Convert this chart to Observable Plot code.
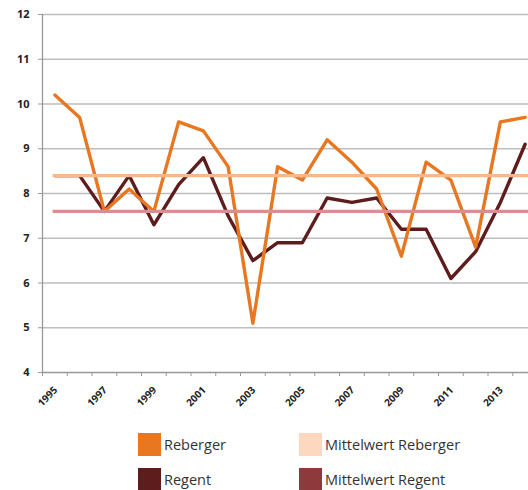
<!DOCTYPE html>
<html>
<head>
<meta charset="utf-8">
<script src="https://cdn.jsdelivr.net/npm/d3@7"></script>
<script src="https://cdn.jsdelivr.net/npm/@observablehq/plot@0.6"></script>
<style>
  body { margin: 0; background: #fff; font-family: "Open Sans", "Liberation Sans", sans-serif; }
  #chart svg { display: block; }
  .legend { position: relative; height: 65px; }
  .item { position: absolute; display: flex; align-items: center; font-size: 14.5px; color: #333; }
  .sw { width: 23px; height: 23px; margin-right: 3px; }
</style>
</head>
<body>
<div id="chart"></div>
<div class="legend" id="legend"></div>
<script>
const years = [1995,1996,1997,1998,1999,2000,2001,2002,2003,2004,2005,2006,2007,2008,2009,2010,2011,2012,2013,2014];
const reberger = [10.2,9.7,7.6,8.1,7.6,9.6,9.4,8.6,5.1,8.6,8.3,9.2,8.7,8.1,6.6,8.7,8.3,6.8,9.6,9.7];
const regent = [8.4,8.4,7.6,8.4,7.3,8.2,8.8,7.5,6.5,6.9,6.9,7.9,7.8,7.9,7.2,7.2,6.1,6.7,7.8,9.1];
const meanReberger = 8.4;
const meanRegent = 7.6;
const yTicks = [4,5,6,7,8,9,10,11,12];
const xLabels = [1995,1997,1999,2001,2003,2005,2007,2009,2011,2013];

const colors = {
  "Reberger": "#E87722",
  "Regent": "#5E1C1C",
  "Mittelwert Reberger": "#FDD8BE",
  "Mittelwert Regent": "#8E3A3C"
};
const meanLineColors = { reb: "#F8B88C", reg: "#D88E93" };

const rebData = years.map((y, i) => ({year: y, value: reberger[i]}));
const regData = years.map((y, i) => ({year: y, value: regent[i]}));
const boundaries = d3.range(1994.5, 2014.5, 1);

const xMax = 2014.136;
const plot = Plot.plot({
  width: 528,
  height: 425,
  marginLeft: 42,
  marginRight: 0,
  marginTop: 14,
  marginBottom: 53,
  x: {type: "linear", domain: [1994.5, xMax], axis: null},
  y: {type: "linear", domain: [4, 12], axis: null},
  marks: [
    Plot.ruleY(yTicks.slice(1), {stroke: "#bdbdbd", strokeWidth: 1.3}),
    Plot.ruleY([4], {stroke: "#999", strokeWidth: 1.3}),
    Plot.ruleX([1994.5], {y1: 4, y2: 12, stroke: "#999", strokeWidth: 1.3}),
    Plot.axisY(yTicks, {tickSize: 4, stroke: "#999", tickPadding: 9, fontWeight: "bold", fontSize: 11, fill: "#222", label: null}),
    Plot.axisX(boundaries, {tickSize: 4, stroke: "#999", text: null, label: null}),
    Plot.text(xLabels, {x: d => d, y: 4, text: d => String(d), rotate: -45, textAnchor: "end", dx: 1, dy: 16, fontWeight: "bold", fontSize: 10, fill: "#222"}),
    Plot.line(regData, {x: "year", y: "value", stroke: colors["Regent"], strokeWidth: 3.4}),
    Plot.line(rebData, {x: "year", y: "value", stroke: colors["Reberger"], strokeWidth: 3.4}),
    Plot.ruleY([meanRegent], {x1: 1994.93, x2: xMax, stroke: meanLineColors.reg, strokeWidth: 3.4}),
    Plot.ruleY([meanReberger], {x1: 1994.93, x2: xMax, stroke: meanLineColors.reb, strokeWidth: 3.4})
  ]
});
document.getElementById("chart").appendChild(plot);

const legendItems = [
  {name: "Reberger", left: 138, top: 8},
  {name: "Mittelwert Reberger", left: 299, top: 8},
  {name: "Regent", left: 138, top: 43},
  {name: "Mittelwert Regent", left: 299, top: 43}
];
const lg = document.getElementById("legend");
for (const it of legendItems) {
  const d = document.createElement("div");
  d.className = "item";
  d.style.left = it.left + "px";
  d.style.top = it.top + "px";
  d.innerHTML = `<span class="sw" style="background:${colors[it.name]}"></span><span>${it.name}</span>`;
  lg.appendChild(d);
}
</script>
</body>
</html>
